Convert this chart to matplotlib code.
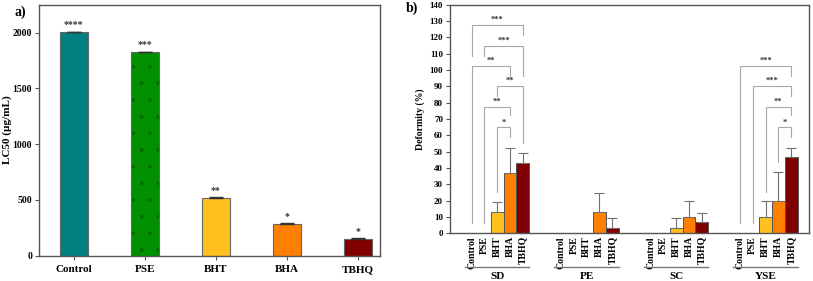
import matplotlib
matplotlib.use("Agg")
import matplotlib.pyplot as plt
import numpy as np

plt.rcParams['font.family'] = ['Liberation Serif', 'DejaVu Serif']
plt.rcParams['font.weight'] = 'bold'
plt.rcParams['hatch.linewidth'] = 0.4

# ---- Panel a data ----
a_cats = ["Control", "PSE", "BHT", "BHA", "TBHQ"]
a_vals = [2005, 1825, 518, 285, 150]
a_errs = [5, 5, 5, 5, 5]
a_sig = ["****", "***", "**", "*", "*"]
colors = ["#008080", "#009000", "#FFC020", "#FF8000", "#800000"]

# ---- Panel b data ----
groups = ["SD", "PE", "SC", "YSE"]
b_cats = ["Control", "PSE", "BHT", "BHA", "TBHQ"]
b_vals = {
    "SD":  [0, 0, 13.3, 36.7, 43.3],
    "PE":  [0, 0, 0, 13.3, 3.3],
    "SC":  [0, 0, 3.3, 10.0, 6.7],
    "YSE": [0, 0, 10.0, 20.0, 46.7],
}
b_errs = {
    "SD":  [0, 0, 5.8, 15.3, 5.8],
    "PE":  [0, 0, 0, 11.5, 5.8],
    "SC":  [0, 0, 5.8, 10.0, 5.8],
    "YSE": [0, 0, 10.0, 17.3, 5.8],
}
# brackets: (group, i1, i2, top, left_end, right_end, label)
brackets = [
    ("SD", 0, 4, 127.5, 108.6, 121.5, "***"),
    ("SD", 1, 4, 115.0, 108.6, 96.3, "***"),
    ("SD", 0, 3, 102.4, 6.5, 96.3, "**"),
    ("SD", 2, 4, 90.2, 84.0, 55.5, "**"),
    ("SD", 1, 3, 77.5, 6.5, 72.4, "**"),
    ("SD", 2, 3, 64.9, 25.5, 58.8, "*"),
    ("YSE", 0, 4, 102.4, 6.5, 96.3, "***"),
    ("YSE", 1, 4, 90.2, 6.5, 84.0, "***"),
    ("YSE", 2, 4, 77.5, 25.5, 72.4, "**"),
    ("YSE", 3, 4, 64.9, 43.8, 58.8, "*"),
]

W, H = 813, 281
fig = plt.figure(figsize=(W / 100, H / 100), dpi=100)

spine_col = "#555555"
edge_col = "#666666"
br_col = "#A8A8A8"

# ---------------- Panel a ----------------
axa = fig.add_axes([39 / W, 1 - 255.7 / H, (380 - 39) / W, (255.7 - 4.5) / H])
xa = np.arange(len(a_cats))
for i in range(len(a_cats)):
    if i == 1:
        axa.bar(xa[i], a_vals[i], width=0.4, color=colors[i], edgecolor='#006a00',
                linewidth=0, hatch='.', zorder=2)
        axa.bar(xa[i], a_vals[i], width=0.4, fill=False, edgecolor=edge_col,
                linewidth=0.8, zorder=2)
    else:
        axa.bar(xa[i], a_vals[i], width=0.4, color=colors[i], edgecolor=edge_col,
                linewidth=0.8, zorder=2)
axa.errorbar(xa, a_vals, yerr=[[0] * 5, a_errs], fmt='none', ecolor='#333333',
             elinewidth=0.8, capsize=5, capthick=1.0, zorder=3)
for i in range(len(a_cats)):
    axa.text(xa[i], a_vals[i] + 30, a_sig[i], ha='center', va='bottom',
             fontsize=7, fontweight='bold', color='#333333')
axa.set_xlim(-0.49, 4.31)
axa.set_ylim(0, 2253)
axa.set_yticks([0, 500, 1000, 1500, 2000])
axa.set_xticks(xa)
axa.set_xticklabels(a_cats, fontsize=8, fontweight='bold')
axa.tick_params(axis='y', labelsize=7, length=3, width=0.8, color=spine_col, pad=2)
axa.tick_params(axis='x', length=3, width=0.8, color=spine_col, pad=4)
axa.set_ylabel("LC50 (µg/mL)", fontsize=8, fontweight='bold')
axa.yaxis.set_label_coords(-(39 - 12) / (380 - 39), 0.5)
for s in axa.spines.values():
    s.set_color(spine_col)
    s.set_linewidth(1.0)
fig.text(20 / W, 1 - 12 / H, "a)", fontsize=10, fontweight='bold', ha='center', va='center')

# ---------------- Panel b ----------------
axb = fig.add_axes([450 / W, 1 - 233.3 / H, (809 - 450) / W, (233.3 - 4.7) / H])
step = 7
ticks_x = []
tick_lbls = []
for g, grp in enumerate(groups):
    xs = g * step + np.arange(5)
    for i in range(5):
        axb.bar(xs[i], b_vals[grp][i], width=1.0, color=colors[i],
                edgecolor='#555555', linewidth=0.7, zorder=2)
    errs = b_errs[grp]
    for i in range(5):
        if errs[i] > 0:
            axb.errorbar(xs[i], b_vals[grp][i], yerr=[[0], [errs[i]]], fmt='none',
                         ecolor='#707070', elinewidth=0.8, capsize=3.5, capthick=0.8,
                         zorder=3)
    ticks_x.extend(xs)
    tick_lbls.extend(b_cats)

for grp, i1, i2, top, le, re, lab in brackets:
    g = groups.index(grp)
    x1 = g * step + i1
    x2 = g * step + i2
    axb.plot([x1, x1, x2, x2], [le, top, top, re], color=br_col, lw=0.8,
             zorder=1, solid_joinstyle='miter')
    axb.text((x1 + x2) / 2, top + 0.5, lab, ha='center', va='bottom',
             fontsize=6, fontweight='bold', color='#333333')

axb.set_xlim(-1.7, 26.4)
axb.set_ylim(0, 140)
axb.set_yticks(np.arange(0, 141, 10))
axb.set_xticks(ticks_x)
axb.set_xticklabels(tick_lbls, rotation=90, fontsize=7, fontweight='bold')
axb.tick_params(axis='x', length=0, pad=2)
axb.tick_params(axis='y', labelsize=6.5, length=3, width=0.8, color=spine_col, pad=2)
axb.set_ylabel("Deformity (%)", fontsize=7, fontweight='bold', labelpad=3)
for s in axb.spines.values():
    s.set_color(spine_col)
    s.set_linewidth(1.0)

# group lines and labels
for g, grp in enumerate(groups):
    x0 = g * step - 0.55
    x1 = g * step + 4.5
    yline = -(266.7 - 233.3) / (228.6 / 140)
    axb.plot([x0, x1], [yline, yline], color='#777777', lw=1.0, clip_on=False)
    ylab = -(276.5 - 233.3) / (228.6 / 140)
    axb.text(g * step + 2, ylab, grp, ha='center', va='center', fontsize=8,
             fontweight='bold')

fig.text(412 / W, 1 - 8 / H, "b)", fontsize=10, fontweight='bold', ha='center', va='center')

fig.savefig("out.png", dpi=100)
